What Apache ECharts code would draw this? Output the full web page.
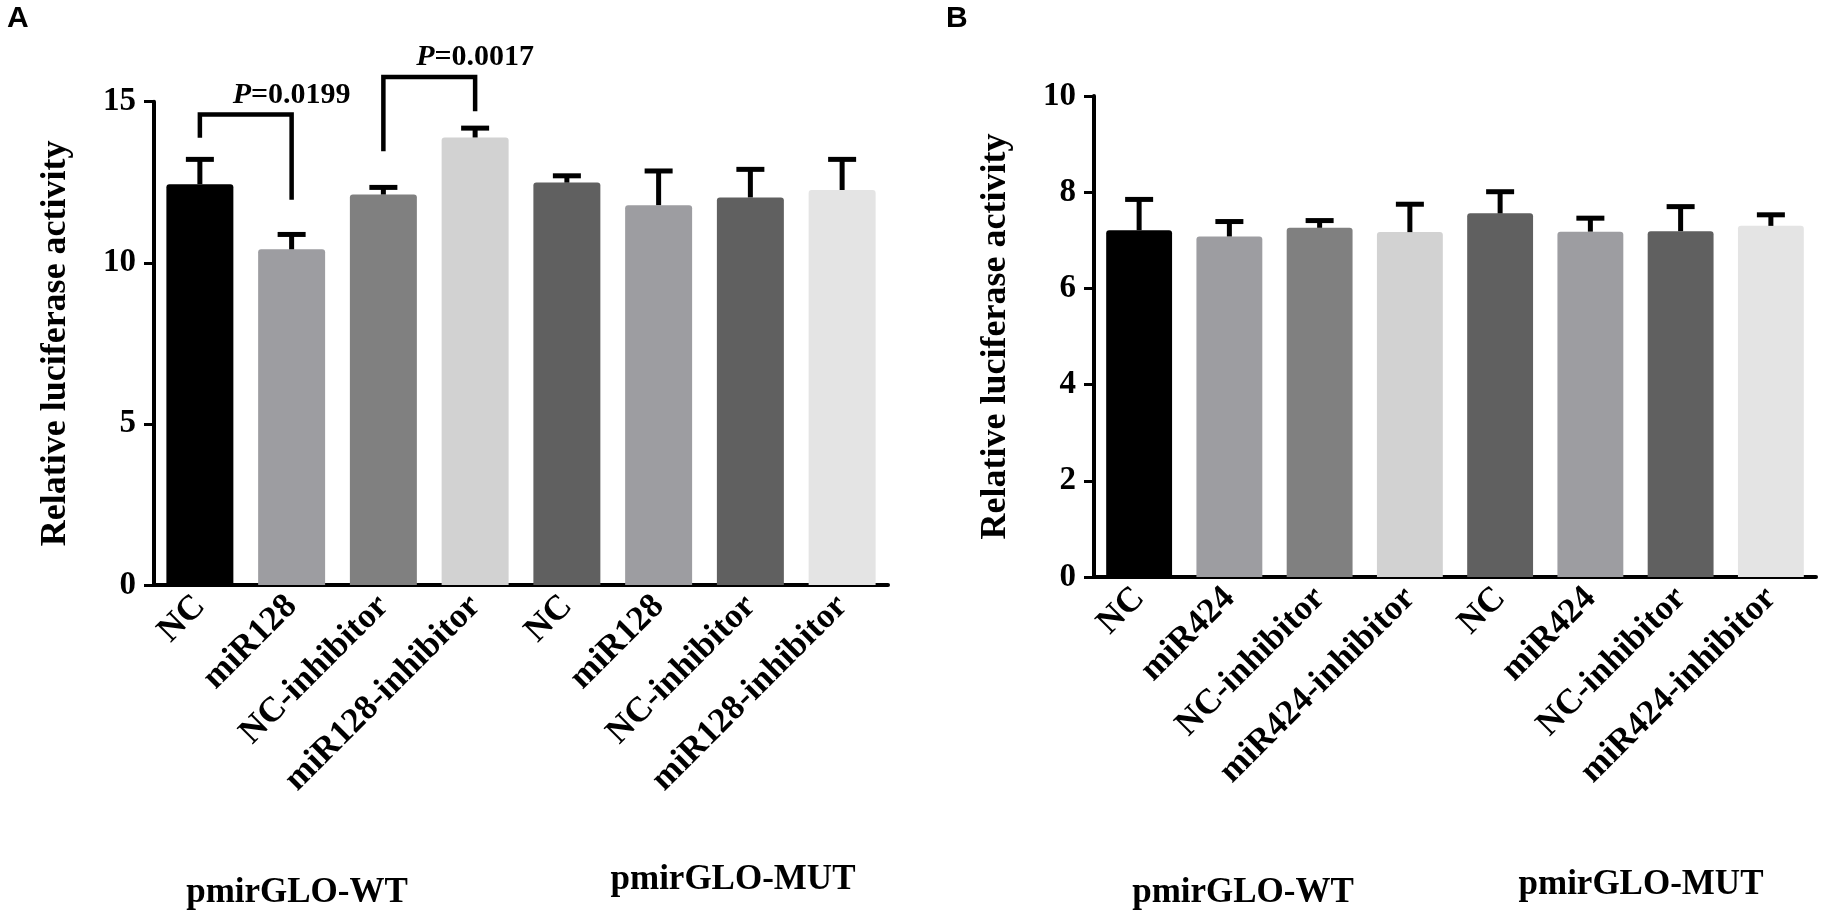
<!DOCTYPE html>
<html lang="en">
<head>
    <meta charset="UTF-8">
    <title>Relative luciferase activity</title>
    <style>
        html, body { margin: 0; padding: 0; background: #fff; }
        #main { width: 1831px; height: 923px; }
    </style>
</head>
<body>
    <div id="main"></div>
    <script src="https://cdn.jsdelivr.net/npm/echarts@6.0.0/dist/echarts.min.js"></script>
    <script>
        // panel A (miR128)
        const catsA = ['NC', 'miR128', 'NC-inhibitor', 'miR128-inhibitor', 'NC', 'miR128', 'NC-inhibitor', 'miR128-inhibitor'];
        const meanA = [12.44, 10.42, 12.12, 13.89, 12.49, 11.79, 12.03, 12.26];
        const semA = [0.77, 0.46, 0.22, 0.29, 0.21, 1.06, 0.87, 0.95];
        // bracket: [fromCat, toCat, leftEnd, top, rightEnd, labelY, label]
        const bracketsA = [
            [0, 1, 13.88, 14.6, 11.96, 15.2, '0.0199'],
            [2, 3, 13.46, 15.77, 14.7, 16.37, '0.0017']
        ];

        // panel B (miR424)
        const catsB = ['NC', 'miR424', 'NC-inhibitor', 'miR424-inhibitor', 'NC', 'miR424', 'NC-inhibitor', 'miR424-inhibitor'];
        const meanB = [7.21, 7.08, 7.26, 7.17, 7.56, 7.18, 7.19, 7.30];
        const semB = [0.64, 0.31, 0.15, 0.58, 0.45, 0.28, 0.51, 0.23];

        const barColors = ['#000000', '#9d9da1', '#808080', '#d2d2d2', '#606060', '#9d9da1', '#606060', '#e4e4e4'];

        const serif = '"Liberation Serif", "Times New Roman", serif';

        const myChart = echarts.init(document.getElementById('main'));

        function xAxisOf(idx, cats) {
            return {
                type: 'category',
                gridIndex: idx,
                data: cats,
                axisLine: { lineStyle: { color: '#000', width: 4 } },
                axisTick: { alignWithLabel: true, length: 12, lineStyle: { color: '#000', width: 4 } },
                axisLabel: {
                    rotate: 45,
                    margin: 16,
                    color: '#000',
                    fontFamily: serif,
                    fontWeight: 'bold',
                    fontSize: 35
                }
            };
        }

        function yAxisOf(idx, max, interval) {
            return {
                type: 'value',
                gridIndex: idx,
                min: 0,
                max: max,
                interval: interval,
                name: 'Relative luciferase activity',
                nameLocation: 'middle',
                nameGap: 80,
                nameTextStyle: { color: '#000', fontFamily: serif, fontWeight: 'bold', fontSize: 36 },
                axisLine: { show: true, lineStyle: { color: '#000', width: 4 } },
                axisTick: { show: true, length: 10, lineStyle: { color: '#000', width: 3 } },
                splitLine: { show: false },
                axisLabel: { margin: 18, color: '#000', fontFamily: serif, fontWeight: 'bold', fontSize: 33 }
            };
        }

        function barSeries(idx, means) {
            return {
                type: 'bar',
                xAxisIndex: idx,
                yAxisIndex: idx,
                barCategoryGap: '27%',
                data: means.map((v, i) => ({ value: v, itemStyle: { color: barColors[i], borderRadius: [3, 3, 0, 0] } })),
                z: 2
            };
        }

        function errorSeries(idx, means, sems) {
            return {
                type: 'custom',
                xAxisIndex: idx,
                yAxisIndex: idx,
                data: means.map((v, i) => [i, v, sems[i]]),
                z: 3,
                renderItem: function (params, api) {
                    const x = api.value(0);
                    const base = api.coord([x, api.value(1)]);
                    const top = api.coord([x, api.value(1) + api.value(2)]);
                    const cap = 14;
                    const st = { stroke: '#000', lineWidth: 5 };
                    return {
                        type: 'group',
                        children: [
                            { type: 'line', shape: { x1: base[0], y1: base[1], x2: top[0], y2: top[1] }, style: st },
                            { type: 'line', shape: { x1: top[0] - cap, y1: top[1], x2: top[0] + cap, y2: top[1] }, style: st }
                        ]
                    };
                }
            };
        }

        const option = {
            backgroundColor: '#ffffff',
            animation: false,
            grid: [
                { left: 154, top: 101.7, width: 734, height: 483.3, outerBoundsMode: 'none' },
                { left: 1094, top: 96, width: 722, height: 481, outerBoundsMode: 'none' }
            ],
            xAxis: [xAxisOf(0, catsA), xAxisOf(1, catsB)],
            yAxis: [yAxisOf(0, 15, 5), yAxisOf(1, 10, 2)],
            series: [
                barSeries(0, meanA),
                errorSeries(0, meanA, semA),
                barSeries(1, meanB),
                errorSeries(1, meanB, semB),
                {
                    type: 'custom',
                    xAxisIndex: 0,
                    yAxisIndex: 0,
                    clip: false,
                    data: bracketsA,
                    z: 4,
                    renderItem: function (params, api) {
                        const a = api.value(0), b = api.value(1);
                        const p1 = api.coord([a, api.value(2)]);
                        const p2 = api.coord([a, api.value(3)]);
                        const p3 = api.coord([b, api.value(3)]);
                        const p4 = api.coord([b, api.value(4)]);
                        const lab = api.coord([(a + b) / 2, api.value(5)]);
                        return {
                            type: 'group',
                            children: [
                                {
                                    type: 'polyline',
                                    shape: { points: [p1, p2, p3, p4] },
                                    style: { stroke: '#000', lineWidth: 4.5, lineJoin: 'miter', fill: null }
                                },
                                {
                                    type: 'text',
                                    x: lab[0],
                                    y: lab[1],
                                    style: {
                                        text: '{p|P}{v|=' + bracketsA[params.dataIndex][6] + '}',
                                        align: 'center',
                                        verticalAlign: 'middle',
                                        rich: {
                                            p: { fontFamily: serif, fontStyle: 'italic', fontWeight: 'bold', fontSize: 30, fill: '#000' },
                                            v: { fontFamily: serif, fontWeight: 'bold', fontSize: 30, fill: '#000' }
                                        }
                                    }
                                }
                            ]
                        };
                    }
                }
            ],
            graphic: [
                { type: 'text', left: 7, top: 4, style: { text: 'A', font: 'bold 30px "Liberation Sans", Arial, sans-serif', fill: '#000' } },
                { type: 'text', left: 946, top: 4, style: { text: 'B', font: 'bold 30px "Liberation Sans", Arial, sans-serif', fill: '#000' } },
                { type: 'text', x: 297, y: 893, style: { text: 'pmirGLO-WT', align: 'center', verticalAlign: 'middle', font: 'bold 35px "Liberation Serif", "Times New Roman", serif', fill: '#000' } },
                { type: 'text', x: 733, y: 880, style: { text: 'pmirGLO-MUT', align: 'center', verticalAlign: 'middle', font: 'bold 35px "Liberation Serif", "Times New Roman", serif', fill: '#000' } },
                { type: 'text', x: 1243, y: 893, style: { text: 'pmirGLO-WT', align: 'center', verticalAlign: 'middle', font: 'bold 35px "Liberation Serif", "Times New Roman", serif', fill: '#000' } },
                { type: 'text', x: 1641, y: 885, style: { text: 'pmirGLO-MUT', align: 'center', verticalAlign: 'middle', font: 'bold 35px "Liberation Serif", "Times New Roman", serif', fill: '#000' } }
            ]
        };
        myChart.setOption(option);
    </script>
</body>
</html>
